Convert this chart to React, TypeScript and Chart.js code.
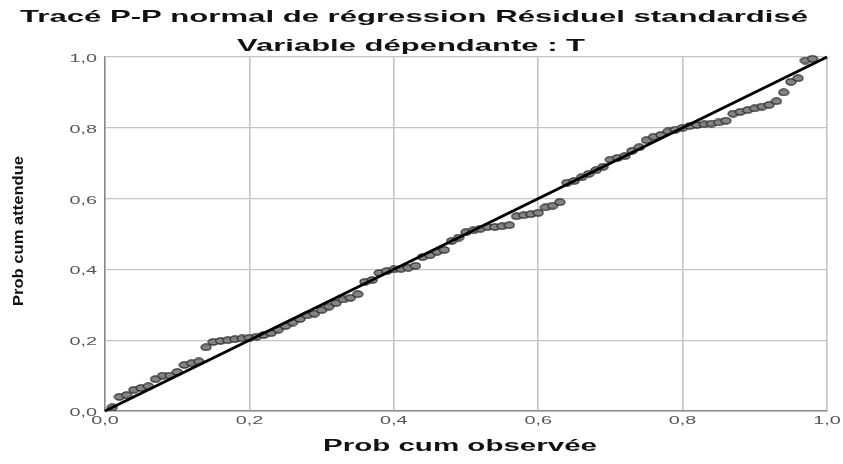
import React, { useEffect, useRef } from "react";
import { Chart, registerables } from "chart.js";

Chart.register(...registerables);

// Observed cumulative probability (x) and expected cumulative probability (y)
const observed = [
  0.01, 0.02, 0.03, 0.04, 0.05, 0.06, 0.07, 0.08, 0.09, 0.10,
  0.11, 0.12, 0.13, 0.14, 0.15, 0.16, 0.17, 0.18, 0.19, 0.20,
  0.21, 0.22, 0.23, 0.24, 0.25, 0.26, 0.27, 0.28, 0.29, 0.30,
  0.31, 0.32, 0.33, 0.34, 0.35, 0.36, 0.37, 0.38, 0.39, 0.40,
  0.41, 0.42, 0.43, 0.44, 0.45, 0.46, 0.47, 0.48, 0.49, 0.50,
  0.51, 0.52, 0.53, 0.54, 0.55, 0.56, 0.57, 0.58, 0.59, 0.60,
  0.61, 0.62, 0.63, 0.64, 0.65, 0.66, 0.67, 0.68, 0.69, 0.70,
  0.71, 0.72, 0.73, 0.74, 0.75, 0.76, 0.77, 0.78, 0.79, 0.80,
  0.81, 0.82, 0.83, 0.84, 0.85, 0.86, 0.87, 0.88, 0.89, 0.90,
  0.91, 0.92, 0.93, 0.94, 0.95, 0.96, 0.97, 0.98,
];
const expected = [
  0.010, 0.040, 0.045, 0.060, 0.065, 0.070, 0.090, 0.100, 0.100, 0.110,
  0.130, 0.135, 0.140, 0.180, 0.195, 0.198, 0.200, 0.203, 0.205, 0.207,
  0.210, 0.215, 0.220, 0.230, 0.240, 0.250, 0.260, 0.270, 0.275, 0.285,
  0.295, 0.305, 0.315, 0.320, 0.330, 0.365, 0.370, 0.390, 0.395, 0.400,
  0.402, 0.405, 0.410, 0.435, 0.440, 0.450, 0.455, 0.480, 0.490, 0.505,
  0.510, 0.515, 0.520, 0.520, 0.522, 0.525, 0.550, 0.553, 0.556, 0.560,
  0.575, 0.580, 0.590, 0.645, 0.650, 0.660, 0.670, 0.680, 0.690, 0.710,
  0.715, 0.720, 0.735, 0.745, 0.765, 0.775, 0.780, 0.790, 0.795, 0.800,
  0.805, 0.808, 0.810, 0.812, 0.815, 0.820, 0.840, 0.845, 0.850, 0.855,
  0.860, 0.865, 0.875, 0.900, 0.930, 0.940, 0.990, 0.995,
];
const diagonalX = [0, 1];
const diagonalY = [0, 1];

const tickValues = [0, 0.2, 0.4, 0.6, 0.8, 1.0];
const tickLabels = ["0,0", "0,2", "0,4", "0,6", "0,8", "1,0"];

const titleLine1 = "Tracé P-P normal de régression Résiduel standardisé";
const titleLine2 = "Variable dépendante : T";
const xTitle = "Prob cum observée";
const yTitle = "Prob cum attendue";

const FONT = '"Liberation Sans", Arial, sans-serif';

function drawText(
  ctx: CanvasRenderingContext2D,
  text: string,
  x: number,
  y: number,
  font: string,
  opts: { sx?: number; width?: number; align?: CanvasTextAlign; color?: string; rotate?: number }
) {
  ctx.save();
  ctx.font = font;
  const w = ctx.measureText(text).width;
  const sx = opts.width ? opts.width / w : opts.sx ?? 1;
  ctx.translate(x, y);
  if (opts.rotate) ctx.rotate(opts.rotate);
  ctx.scale(sx, 1);
  ctx.textAlign = opts.align ?? "center";
  ctx.textBaseline = "middle";
  ctx.fillStyle = opts.color ?? "#000";
  ctx.fillText(text, 0, 0);
  ctx.restore();
}

function makeDot(): HTMLCanvasElement {
  const c = document.createElement("canvas");
  c.width = 12;
  c.height = 8;
  const g = c.getContext("2d")!;
  g.beginPath();
  g.ellipse(6, 4, 5, 3.1, 0, 0, Math.PI * 2);
  g.fillStyle = "#858585";
  g.fill();
  g.lineWidth = 1.2;
  g.strokeStyle = "#2b2b2b";
  g.stroke();
  return c;
}

const textPlugin = {
  id: "stretchedTexts",
  afterDraw(chart: any) {
    const ctx = chart.ctx as CanvasRenderingContext2D;
    const xs = chart.scales.x;
    const ys = chart.scales.y;
    drawText(ctx, titleLine1, 414, 17, `bold 17px ${FONT}`, { width: 788, color: "#111" });
    drawText(ctx, titleLine2, 411, 46, `bold 17px ${FONT}`, { width: 348, color: "#111" });
    drawText(ctx, xTitle, 460, 447, `bold 16px ${FONT}`, { width: 274, color: "#111" });
    drawText(ctx, yTitle, 19, 231, `bold 15px ${FONT}`, { width: 150, color: "#111", rotate: -Math.PI / 2 });
    tickValues.forEach((v, i) => {
      drawText(ctx, tickLabels[i], xs.getPixelForValue(v), 421, `11px ${FONT}`, { sx: 1.8, color: "#555" });
      drawText(ctx, tickLabels[i], 97, ys.getPixelForValue(v) + 2, `11px ${FONT}`, {
        sx: 1.8,
        align: "right",
        color: "#555",
      });
    });
  },
};

export default function App() {
  const ref = useRef<HTMLCanvasElement>(null);
  useEffect(() => {
    if (!ref.current) return;
    const dot = makeDot();
    const chart = new Chart(ref.current, {
      type: "scatter",
      data: {
        datasets: [
          {
            type: "line",
            data: diagonalX.map((x, i) => ({ x, y: diagonalY[i] })),
            borderColor: "#000",
            borderWidth: 3,
            pointRadius: 0,
            fill: false,
            clip: false as any,
          },
          {
            data: observed.map((x, i) => ({ x, y: expected[i] })),
            pointStyle: dot as any,
            pointRadius: 3,
            clip: false as any,
          },
        ],
      },
      plugins: [textPlugin],
      options: {
        responsive: false,
        animation: false,
        devicePixelRatio: 1,
        layout: { padding: { left: 105, right: 16, top: 57, bottom: 53 } },
        plugins: { legend: { display: false }, tooltip: { enabled: false }, title: { display: false } },
        scales: {
          x: {
            type: "linear",
            min: 0,
            max: 1,
            ticks: { display: false, stepSize: 0.2 },
            grid: { color: "#c4c4c4", lineWidth: 1.6, drawTicks: false },
            border: { color: "#8a8a8a", width: 1.5 },
          },
          y: {
            type: "linear",
            min: 0,
            max: 1,
            ticks: { display: false, stepSize: 0.2 },
            grid: { color: "#c4c4c4", lineWidth: 1.2, drawTicks: false },
            border: { color: "#8a8a8a", width: 1.5 },
          },
        },
      },
    });
    return () => chart.destroy();
  }, []);
  return (
    <div style={{ position: "fixed", left: 0, top: 0, width: 843, height: 464, background: "#fff" }}>
      <canvas ref={ref} width={843} height={464} style={{ width: 843, height: 464 }} />
    </div>
  );
}
